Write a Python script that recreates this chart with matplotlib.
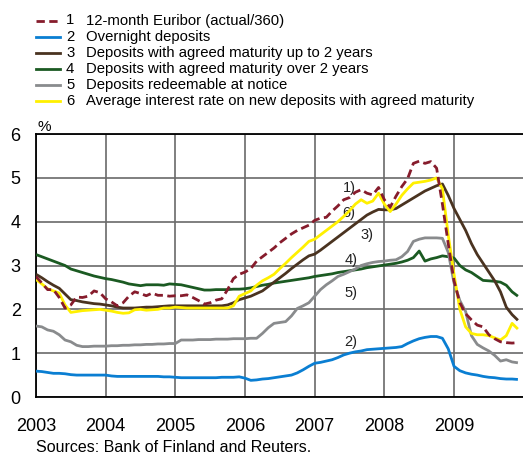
import numpy as np
import matplotlib.pyplot as plt
from matplotlib.lines import Line2D

plt.rcParams['font.family'] = ['Liberation Sans', 'DejaVu Sans']

# monthly data, Jan 2003 - Dec 2009
months = 2003 + np.arange(84) / 12.0

euribor = [2.75, 2.6, 2.45, 2.45, 2.27, 2.03, 2.1, 2.28, 2.27, 2.3, 2.42, 2.38,
           2.24, 2.17, 2.08, 2.15, 2.3, 2.4, 2.36, 2.31, 2.37, 2.32, 2.32, 2.3,
           2.31, 2.31, 2.33, 2.27, 2.2, 2.12, 2.15, 2.21, 2.24, 2.45, 2.7, 2.8,
           2.85, 2.93, 3.1, 3.2, 3.3, 3.4, 3.52, 3.62, 3.72, 3.8, 3.86, 3.92,
           4.03, 4.08, 4.1, 4.24, 4.36, 4.5, 4.55, 4.67, 4.73, 4.65, 4.61, 4.78,
           4.5, 4.33, 4.58, 4.8, 4.98, 5.33, 5.38, 5.33, 5.37, 5.22, 4.4, 3.5,
           2.65, 2.15, 1.9, 1.76, 1.64, 1.6, 1.42, 1.33, 1.26, 1.24, 1.23, 1.24]

overnight = [0.59, 0.58, 0.56, 0.54, 0.54, 0.53, 0.51, 0.5, 0.5, 0.5, 0.5, 0.5,
             0.5, 0.48, 0.47, 0.47, 0.47, 0.47, 0.47, 0.47, 0.47, 0.47, 0.46, 0.46,
             0.45, 0.44, 0.44, 0.44, 0.44, 0.44, 0.44, 0.44, 0.45, 0.45, 0.45, 0.46,
             0.43, 0.38, 0.39, 0.41, 0.42, 0.44, 0.46, 0.48, 0.5, 0.55, 0.62, 0.7,
             0.77, 0.79, 0.82, 0.85, 0.9, 0.96, 1.0, 1.03, 1.05, 1.08, 1.09, 1.1,
             1.11, 1.12, 1.13, 1.15, 1.22, 1.28, 1.33, 1.36, 1.38, 1.38, 1.34, 1.1,
             0.7, 0.6, 0.55, 0.52, 0.5, 0.47, 0.45, 0.44, 0.42, 0.41, 0.41, 0.4]

upto2 = [2.8, 2.72, 2.63, 2.55, 2.48, 2.35, 2.22, 2.2, 2.17, 2.15, 2.13, 2.12,
         2.1, 2.08, 2.05, 2.03, 2.03, 2.03, 2.04, 2.05, 2.05, 2.06, 2.07, 2.08,
         2.08, 2.08, 2.08, 2.08, 2.08, 2.08, 2.08, 2.08, 2.08, 2.1, 2.15, 2.22,
         2.26, 2.3, 2.36, 2.42, 2.52, 2.62, 2.72, 2.82, 2.93, 3.03, 3.13, 3.22,
         3.26, 3.35, 3.45, 3.55, 3.65, 3.75, 3.85, 3.95, 4.05, 4.15, 4.22, 4.28,
         4.27, 4.27, 4.3, 4.38, 4.46, 4.54, 4.62, 4.7, 4.76, 4.82, 4.86, 4.6,
         4.3, 4.05, 3.8, 3.5, 3.25, 3.05, 2.85, 2.65, 2.4, 2.05, 1.88, 1.75]

over2 = [3.25, 3.2, 3.15, 3.1, 3.05, 3.0, 2.92, 2.88, 2.84, 2.8, 2.76, 2.73,
         2.7, 2.68, 2.65, 2.62, 2.58, 2.56, 2.54, 2.56, 2.56, 2.56, 2.55, 2.58,
         2.57, 2.56, 2.53, 2.5, 2.47, 2.44, 2.44, 2.45, 2.45, 2.45, 2.46, 2.46,
         2.47, 2.49, 2.52, 2.55, 2.57, 2.6, 2.62, 2.64, 2.66, 2.68, 2.7, 2.72,
         2.75, 2.77, 2.79, 2.81, 2.84, 2.86, 2.88, 2.9, 2.92, 2.95, 2.97, 2.99,
         3.01, 3.03, 3.05, 3.08, 3.12, 3.18, 3.33, 3.1, 3.15, 3.18, 3.22, 3.2,
         3.17, 3.0, 2.9, 2.84, 2.75, 2.66, 2.65, 2.64, 2.62, 2.55, 2.4, 2.3]

notice = [1.62, 1.6, 1.53, 1.5, 1.42, 1.3, 1.26, 1.18, 1.15, 1.15, 1.16, 1.16,
          1.16, 1.17, 1.17, 1.18, 1.18, 1.19, 1.19, 1.2, 1.2, 1.21, 1.21, 1.22,
          1.22, 1.3, 1.3, 1.3, 1.31, 1.31, 1.31, 1.32, 1.32, 1.32, 1.33, 1.33,
          1.33, 1.34, 1.34, 1.45, 1.58, 1.68, 1.7, 1.72, 1.85, 2.02, 2.08, 2.15,
          2.3, 2.45, 2.56, 2.65, 2.75, 2.8, 2.86, 2.92, 3.0, 3.04, 3.07, 3.09,
          3.1, 3.12, 3.13, 3.2, 3.32, 3.55, 3.6, 3.63, 3.63, 3.63, 3.62, 3.3,
          2.6, 2.2, 1.95, 1.4, 1.2, 1.12, 1.05, 0.95, 0.82, 0.85, 0.8, 0.78]

newdep = [2.68, 2.58, 2.47, 2.42, 2.37, 2.1, 1.93, 1.95, 1.97, 1.98, 1.99, 2.0,
          1.98, 1.96, 1.93, 1.91, 1.92, 1.99, 2.0, 1.98, 1.99, 2.0, 2.03, 2.03,
          2.05, 2.04, 2.03, 2.03, 2.03, 2.03, 2.03, 2.03, 2.03, 2.03, 2.08, 2.3,
          2.36, 2.42, 2.55, 2.65, 2.72, 2.8, 2.93, 3.05, 3.18, 3.3, 3.42, 3.55,
          3.6, 3.7, 3.8, 3.9, 4.0, 4.12, 4.25, 4.4, 4.5, 4.42, 4.47, 4.65,
          4.4, 4.23, 4.4, 4.6, 4.75, 4.88, 4.9, 4.92, 4.95, 5.0, 4.75, 3.7,
          2.8, 2.0, 1.6, 1.45, 1.42, 1.42, 1.4, 1.35, 1.3, 1.4, 1.68, 1.55]

years = [2003, 2004, 2005, 2006, 2007, 2008, 2009]
legend_labels = ["12-month Euribor (actual/360)",
                 "Overnight deposits",
                 "Deposits with agreed maturity up to 2 years",
                 "Deposits with agreed maturity over 2 years",
                 "Deposits redeemable at notice",
                 "Average interest rate on new deposits with agreed maturity"]
tags = ["1)", "2)", "3)", "4)", "5)", "6)"]
tag_x = [2007.40, 2007.43, 2007.66, 2007.43, 2007.43, 2007.40]
tag_y = [4.77, 1.26, 3.70, 3.13, 2.37, 4.20]

colors = ['#861c2c', '#0a7ed2', '#4a3320', '#1b5a22', '#898b8d', '#fff000']
series = [euribor, overnight, upto2, over2, notice, newdep]
styles = [(0, (3, 1.6)), '-', '-', '-', '-', '-']

W, H = 523, 455
fig = plt.figure(figsize=(W / 100, H / 100), dpi=100)
ax = fig.add_axes([36 / W, 58 / H, 487.7 / W, 263 / H])

# draw order: green, brown, gray, blue, euribor, yellow
for k in [3, 2, 4, 1, 5, 0]:
    ax.plot(months, series[k], color=colors[k], lw=2.0, ls=styles[k],
            solid_capstyle='butt', zorder=3)

ax.set_xlim(2003, 2010)
ax.set_ylim(0, 6)
ax.set_xticks(years)
ax.set_yticks(range(7))
ax.tick_params(length=0, labelsize=13)
ax.tick_params(axis='y', pad=11)
ax.tick_params(axis='x', pad=15)
ax.grid(True, color='#6a6a6a', lw=1.2)
ax.set_axisbelow(True)
ax.spines['right'].set_visible(False)
for s in ['left', 'bottom', 'top']:
    ax.spines[s].set_color('black')
    ax.spines[s].set_linewidth(1.3)

for k in range(6):
    ax.text(tag_x[k], tag_y[k], tags[k], fontsize=10.5, va='center', ha='left',
            color='#222222', zorder=2)

ax.text(0.003, 1.0, "%", transform=ax.transAxes, fontsize=11, va='bottom', ha='left')

# legend drawn in pixel positions
for k in range(6):
    yy = 1 - (20.5 + 16.1 * k) / H
    fig.add_artist(Line2D([36 / W, 60 / W], [yy, yy], color=colors[k], lw=2.0,
                          ls=styles[k], transform=fig.transFigure))
    fig.text(66 / W, yy, str(k + 1), fontsize=10.7, va='center', ha='left')
    fig.text(86 / W, yy, legend_labels[k], fontsize=10.7, va='center', ha='left')

fig.text(36 / W, 1 - 448 / H, "Sources: Bank of Finland and Reuters.",
         fontsize=11.5, va='center', ha='left')

fig.savefig("out.png", dpi=100)
